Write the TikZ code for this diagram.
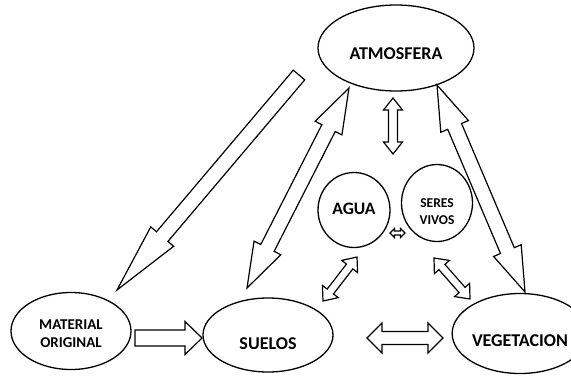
\documentclass[tikz,border=0pt]{standalone}
\usepackage{fontspec}
\setmainfont{Carlito}
\usetikzlibrary{shapes.geometric,calc}
\tikzset{
  zone/.style={ellipse,draw,line width=1.3pt,inner sep=0pt,font=\bfseries,align=center},
  blk/.style={draw,fill=white,line width=1.2pt,line join=miter}
}
\newcommand\sarrow[5]{%
  \path ($(#2)!#5pt!(#1)$) coordinate (hq);
  \draw[blk] ($(#1)!#3pt!90:(#2)$) -- ($(hq)!#3pt!90:(#2)$) -- ($(hq)!#4pt!90:(#2)$) -- (#2)
    -- ($(hq)!#4pt!-90:(#2)$) -- ($(hq)!#3pt!-90:(#2)$) -- ($(#1)!#3pt!-90:(#2)$) -- cycle;}
\newcommand\darrow[5]{%
  \path ($(#1)!#5pt!(#2)$) coordinate (ha) ($(#2)!#5pt!(#1)$) coordinate (hb);
  \draw[blk] (#1) -- ($(ha)!#4pt!90:(#2)$) -- ($(ha)!#3pt!90:(#2)$) -- ($(hb)!#3pt!90:(#2)$)
    -- ($(hb)!#4pt!90:(#2)$) -- (#2) -- ($(hb)!#4pt!-90:(#2)$) -- ($(hb)!#3pt!-90:(#2)$)
    -- ($(ha)!#3pt!-90:(#2)$) -- ($(ha)!#4pt!-90:(#2)$) -- cycle;}
\begin{document}
\begin{tikzpicture}[x=1pt,y=-1pt]
\useasboundingbox (0,0) rectangle (571,376);
\begin{scope}
\clip (0,0) rectangle (571,376);
\node[zone,minimum width=156pt,minimum height=86pt,text height=23.6pt,text depth=0pt,
  font=\bfseries\fontsize{18}{20}\selectfont] (atm) at (396,48) {ATMOSFERA};
\node[zone,minimum width=120pt,minimum height=77pt,
  font=\bfseries\fontsize{15}{18}\selectfont] (mat) at (71,331) {\rule{0pt}{15.7pt}MATERIAL\\ORIGINAL};
\node[zone,minimum width=130pt,minimum height=74pt,text height=29.6pt,text depth=0pt,
  font=\bfseries\fontsize{18}{20}\selectfont] (sue) at (268,335) {SUELOS};
\node[zone,minimum width=120pt,minimum height=80pt,text height=25.6pt,text depth=0pt,
  font=\bfseries\fontsize{18}{20}\selectfont] (veg) at (520,333.5) {VEGETACION};
\node[zone,minimum width=72pt,minimum height=75pt,text height=8pt,text depth=0pt,
  font=\bfseries\fontsize{17.5}{20}\selectfont] (agua) at (354,210) {AGUA};
\node[zone,minimum width=71pt,minimum height=77pt,
  font=\bfseries\fontsize{13.5}{17}\selectfont] (ser) at (437,203) {\rule{0pt}{25.7pt}SERES\\VIVOS};
\end{scope}
% connector end points
\coordinate (p1a) at (299,75);   \coordinate (p1b) at (117,290);
\coordinate (p2a) at (349,88);   \coordinate (p2b) at (247,288);
\coordinate (p3a) at (437,85);   \coordinate (p3b) at (525,292);
\coordinate (p4a) at (393,98);   \coordinate (p4b) at (393,154);
\coordinate (p5a) at (390,233);  \coordinate (p5b) at (405,233);
\coordinate (p6a) at (357,257);  \coordinate (p6b) at (323,301);
\coordinate (p7a) at (434,258);  \coordinate (p7b) at (470,299);
\coordinate (p8a) at (367,338);  \coordinate (p8b) at (443,338);
\coordinate (p9a) at (135,338);  \coordinate (p9b) at (202,338);
\sarrow{p1a}{p1b}{7.5}{15}{70}
\darrow{p2a}{p2b}{7.5}{15}{45}
\darrow{p3a}{p3b}{7.5}{15}{45}
\darrow{p4a}{p4b}{4.5}{9.5}{12}
\darrow{p5a}{p5b}{2}{4.5}{4.5}
\darrow{p6a}{p6b}{4}{10}{12}
\darrow{p7a}{p7b}{4}{10}{12}
\darrow{p8a}{p8b}{6.5}{15}{15}
\sarrow{p9a}{p9b}{8}{16.5}{17}
\end{tikzpicture}
\end{document}
